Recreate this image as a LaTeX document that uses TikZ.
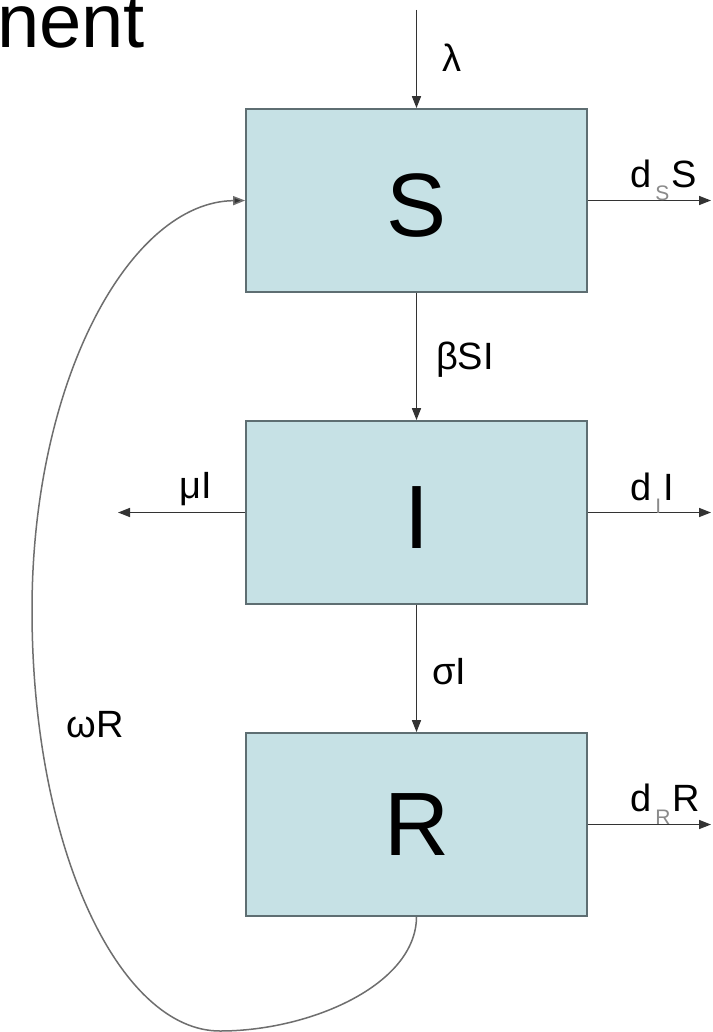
\documentclass[tikz,border=0pt]{standalone}
\usepackage{fontspec}
\setmainfont{Liberation Sans}
\usetikzlibrary{arrows.meta}
\definecolor{boxfill}{HTML}{C6E1E5}
\definecolor{boxline}{HTML}{5E6E72}
\definecolor{linecol}{HTML}{333333}
\definecolor{curvecol}{HTML}{6E6E6E}
\definecolor{subgray}{HTML}{8A8A8A}
\newcommand{\myfs}[1]{\fontsize{#1}{#1}\selectfont}
\newcommand{\subg}[1]{\kern4pt\textcolor{subgray}{\raisebox{-13pt}{\myfs{21}#1}}\kern2pt}
\begin{document}
\begin{tikzpicture}[x=1pt,y=-1pt,
  comp/.style={draw=boxline, line width=1.8pt, fill=boxfill, minimum width=341pt,
    minimum height=183pt, inner sep=0pt, font=\myfs{90}},
  flow/.style={draw=linecol, line width=1.5pt, -{Triangle[length=12pt,width=9pt]}},
  curveflow/.style={draw=curvecol, line width=1.5pt, -{Triangle[length=12pt,width=9pt,fill=linecol]}},
  lbl/.style={font=\myfs{38}, anchor=base, inner sep=0pt},
  titletext/.style={font=\myfs{76}, anchor=base west, inner sep=0pt}]
\useasboundingbox (0,0) rectangle (712,1032);
\fill[white] (0,0) rectangle (712,1032);
% title fragment
\node[titletext] (title) at (-3,48) {nent};
% compartments
\node[comp, text height=72pt, text depth=0pt] (S) at (416.5,200.5) {S};
\node[comp, text height=72pt, text depth=0pt] (I) at (416.5,512.5) {I};
\node[comp] (R) at (416.5,824.5) {R};
% free ends
\coordinate (lamtop) at (416.5,10);
\coordinate (dSend) at (711,200.5);
\coordinate (muend) at (118,512.5);
\coordinate (dIend) at (711,512.5);
\coordinate (dRend) at (711,824.5);
% flows
\draw[flow] (lamtop) -- (S.north);
\draw[flow] (S.south) -- (I.north);
\draw[flow] (I.south) -- (R.north);
\draw[flow] (S.east) -- (dSend);
\draw[flow] (I.west) -- (muend);
\draw[flow] (I.east) -- (dIend);
\draw[flow] (R.east) -- (dRend);
\draw[curveflow] (R.south) .. controls (416,985) and (310,1031) .. (220,1031)
  .. controls (120,1031) and (32,850) .. (32,610)
  .. controls (32,380) and (130,202) .. (S.west);
% labels
\node[lbl] (lam) at (452,72) {λ};
\node[lbl] (bsi) at (465,369) {βSI};
\node[lbl] (mui) at (196,498) {μI};
\node[lbl] (sig) at (449,684) {σI};
\node[lbl] (wr) at (95,737) {ωR};
\node[lbl, anchor=base west] (dss) at (630,188) {d\subg{S}S};
\node[lbl, anchor=base west] (dii) at (630,500) {d\subg{I}I};
\node[lbl, anchor=base west] (drr) at (630,811) {d\subg{R}R};
\end{tikzpicture}
\end{document}
